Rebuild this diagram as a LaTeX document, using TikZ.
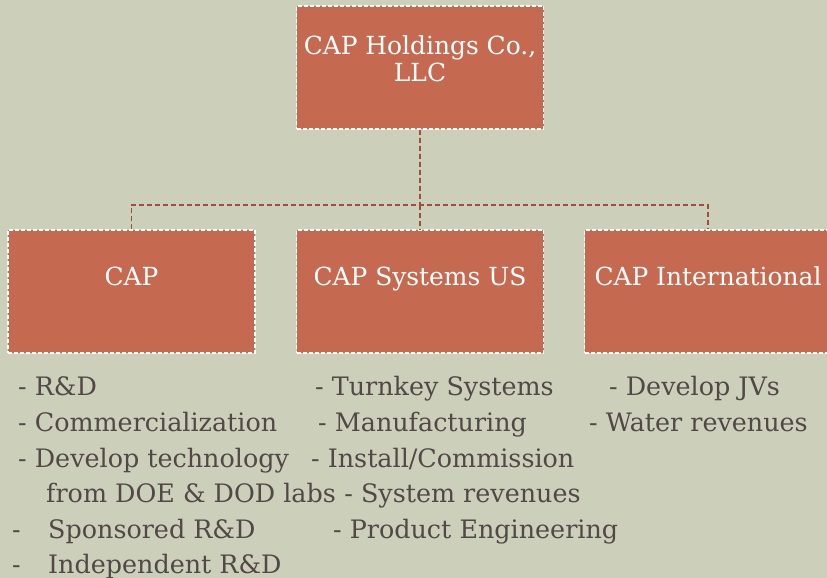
\documentclass[tikz,border=0pt]{standalone}
\usepackage{fontspec}
\setmainfont{DejaVu Serif}
\definecolor{pagebg}{RGB}{204,208,186}
\definecolor{boxfill}{RGB}{197,106,80}
\definecolor{linkred}{RGB}{160,78,60}
\definecolor{listtext}{RGB}{82,72,70}

\begin{document}
\begin{tikzpicture}[
  x=1bp, y=-1bp,
  every node/.style={font=\fontsize{25.5}{30}\selectfont},
  unit/.style={draw=white, dash pattern=on 4bp off 2bp, line width=1.3bp,
               fill=boxfill, text=white, align=center, inner sep=0pt,
               minimum width=247bp, minimum height=123bp,
               font=\fontsize{25}{27}\selectfont},
  sub/.style={unit, text height=18bp, text depth=30bp},
  link/.style={linkred, line width=1.7bp, dash pattern=on 5bp off 3bp},
  item/.style={anchor=base west, inner sep=0pt, text=listtext}
]
  \fill[pagebg] (0,0) rectangle (827,578);
  \useasboundingbox (0,0) rectangle (827,578);

  % holding company and its three units
  \node[unit] (hold) at (420,67.5)  {CAP Holdings Co.,\\LLC\\[-9bp]};
  \node[sub] (cap)  at (131.5,291.5) {CAP};
  \node[sub] (sys)  at (420,291.5)   {CAP Systems US};
  \node[sub] (intl) at (708,291.5)   {CAP International};

  \coordinate (bus) at (420,205);
  \draw[link] (hold.south) -- (bus);
  \draw[link] (cap.north) |- (bus) -| (intl.north);
  \draw[link] (bus) -- (sys.north);

  % activities of each unit
  \node[item] (c1) at (18,395)  {- R\&D};
  \node[item] (c2) at (18,431)  {- Commercialization};
  \node[item] (c3) at (18,467)  {- Develop technology};
  \node[item] (c4) at (46,502)  {from DOE \& DOD labs};
  \node[item] (c5) at (12,538)  {-};
  \node[item] (c5t) at (48,538) {Sponsored R\&D};
  \node[item] (c6) at (12,573)  {-};
  \node[item] (c6t) at (48,573) {Independent R\&D};

  \node[item] (s1) at (315,395) {- Turnkey Systems};
  \node[item] (s2) at (318,431) {- Manufacturing};
  \node[item] (s3) at (311,467) {- Install/Commission};
  \node[item] (s4) at (c4.base east) {\ - System revenues};
  \node[item] (s5) at (333,538) {- Product Engineering};

  \node[item] (i1) at (609,395) {- Develop JVs};
  \node[item] (i2) at (589,431) {- Water revenues};
\end{tikzpicture}
\end{document}
